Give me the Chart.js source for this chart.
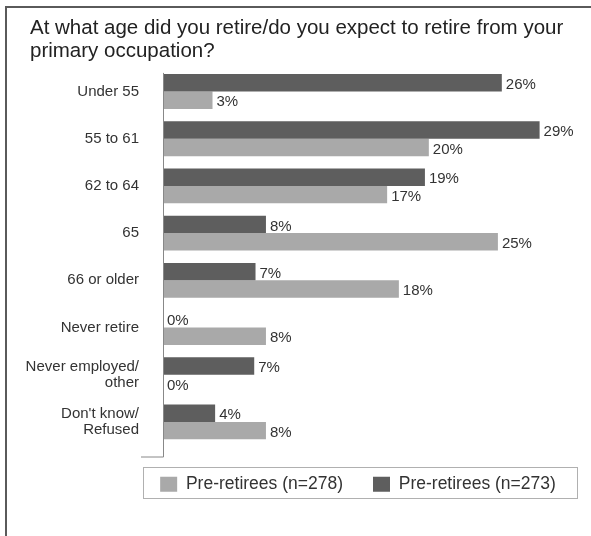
<!DOCTYPE html>
<html><head><meta charset="utf-8">
<script src="https://cdn.jsdelivr.net/npm/chart.js@4"></script>
<style>html,body{margin:0;padding:0;background:#fff}#wrap{width:591px;height:536px;position:relative}canvas{display:block}</style>
</head><body><div id="wrap"><canvas id="c" width="591" height="536"></canvas></div>
<script>
const titleLines = ['At what age did you retire/do you expect to retire from your', 'primary occupation?'];
const categories = ['Under 55', '55 to 61', '62 to 64', '65', '66 or older', 'Never retire', ['Never employed/', 'other'], ["Don't know/", 'Refused']];
const seriesDarkName = 'Pre-retirees (n=273)';
const seriesLightName = 'Pre-retirees (n=278)';
const darkValues = [26, 28.9, 20.1, 7.9, 7.1, 0, 7.0, 4.0];
const lightValues = [3.8, 20.4, 17.2, 25.7, 18.1, 7.9, 0, 7.9];
const darkLabels = ['26%', '29%', '19%', '8%', '7%', '0%', '7%', '4%'];
const lightLabels = ['3%', '20%', '17%', '25%', '18%', '8%', '0%', '8%'];

const F = "'Liberation Sans', Arial, Helvetica, sans-serif";

const decorPlugin = {
  id: 'decor',
  beforeDraw(chart) {
    const ctx = chart.ctx;
    ctx.save();
    ctx.fillStyle = '#fff';
    ctx.fillRect(0, 0, chart.width, chart.height);
    ctx.strokeStyle = '#5a5a5a';
    ctx.lineWidth = 2;
    ctx.beginPath();
    ctx.moveTo(6, chart.height);
    ctx.lineTo(6, 7);
    ctx.lineTo(chart.width, 7);
    ctx.stroke();
    ctx.restore();
    const ca = chart.chartArea;
    // title starts a little to the right of the layout edge
    chart.titleBlock.left = 30;
    // legend block centred within the framed legend area
    const lg = chart.legend;
    lg.left = ca.left - 35;
    lg.right = ca.right + 8;
    lg.width = lg.right - lg.left;
  },
  afterDatasetsDraw(chart) {
    const ctx = chart.ctx;
    const ca = chart.chartArea;
    const x0 = chart.scales.x.getPixelForValue(0);
    ctx.save();
    ctx.strokeStyle = '#888';
    ctx.lineWidth = 1;
    ctx.beginPath();
    ctx.moveTo(Math.round(x0) + 0.5, ca.top + 5);
    ctx.lineTo(Math.round(x0) + 0.5, ca.bottom + 11.5);
    ctx.lineTo(x0 - 22, ca.bottom + 11.5);
    ctx.stroke();
    ctx.fillStyle = '#333';
    ctx.font = '15px ' + F;
    ctx.textBaseline = 'middle';
    ctx.textAlign = 'left';
    chart.data.datasets.forEach((ds, i) => {
      const meta = chart.getDatasetMeta(i);
      meta.data.forEach((bar, j) => {
        ctx.fillText(ds.valueLabels[j], Math.max(bar.x, x0) + 4, bar.y + 2);
      });
    });
    ctx.restore();
  },
  afterDraw(chart) {
    const lg = chart.legend;
    const ca = chart.chartArea;
    const ctx = chart.ctx;
    const bl = Math.round(ca.left - 20);
    const br = Math.round(ca.right - 2);
    ctx.save();
    ctx.strokeStyle = '#b0b0b0';
    ctx.lineWidth = 1;
    ctx.strokeRect(bl + 0.5, Math.round(lg.top) + 21.5, br - bl - 1, 31);
    ctx.restore();
  }
};

new Chart(document.getElementById('c'), {
  type: 'bar',
  data: {
    labels: categories,
    datasets: [
      { label: seriesDarkName, data: darkValues, backgroundColor: '#5e5e5e', valueLabels: darkLabels },
      { label: seriesLightName, data: lightValues, backgroundColor: '#a9a9a9', valueLabels: lightLabels }
    ]
  },
  options: {
    indexAxis: 'y',
    responsive: false,
    animation: false,
    devicePixelRatio: 1,
    layout: { padding: { left: 10, right: 11, top: 8, bottom: 33 } },
    datasets: { bar: { categoryPercentage: 0.738, barPercentage: 1, borderWidth: 0 } },
    scales: {
      x: { display: false, min: 0, max: 32 },
      y: {
        grid: { display: false },
        border: { display: false },
        ticks: { padding: 16, color: '#333', font: { family: F, size: 15, lineHeight: 1.07 } },
        afterFit(s) { s.width = 153; }
      }
    },
    plugins: {
      title: {
        display: true, text: titleLines, align: 'start', color: '#222',
        font: { family: F, size: 20.5, weight: 'normal', lineHeight: 1.12 },
        padding: { top: 9, bottom: 5 }
      },
      legend: {
        position: 'bottom', reverse: true,
        labels: { boxWidth: 17, boxHeight: 15, padding: 30, color: '#333', font: { family: F, size: 17.5 } }
      },
      tooltip: { enabled: false }
    }
  },
  plugins: [decorPlugin]
});
</script>
</body></html>
